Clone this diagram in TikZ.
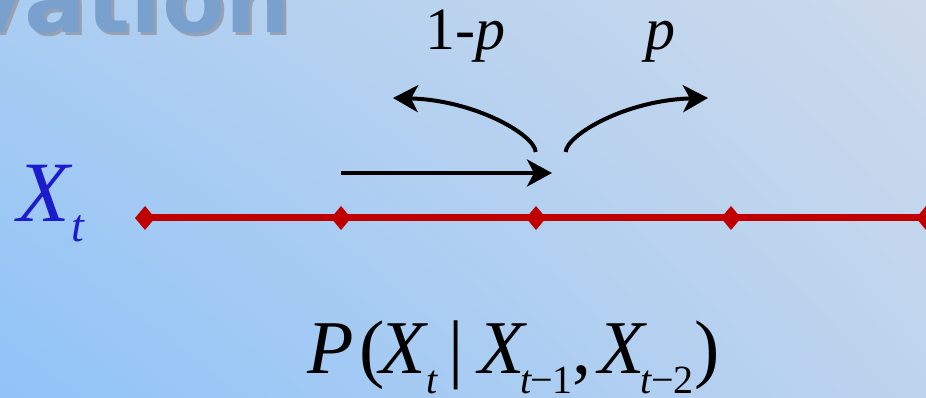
\documentclass[tikz,border=0pt]{standalone}
\usepackage{fontspec}
\setmainfont{Liberation Serif}
\newfontfamily\titlefont{DejaVu Sans}
\usetikzlibrary{arrows.meta,shadings}
\definecolor{bgUL}{RGB}{170,205,242}
\definecolor{bgUR}{RGB}{205,218,235}
\definecolor{bgLL}{RGB}{144,195,248}
\definecolor{bgLR}{RGB}{190,212,238}
\definecolor{titleblue}{RGB}{122,160,206}
\definecolor{titleshadow}{RGB}{150,162,180}
\definecolor{xblue}{RGB}{28,28,205}
\definecolor{linered}{RGB}{192,0,0}
\newcommand\mysub[1]{\raisebox{-20pt}{\fontsize{40}{40}\selectfont #1}}
\tikzset{
  lbl/.style={inner sep=0pt, anchor=base west},
  redline/.style={draw=linered, line width=7pt},
  diam/.style={fill=linered},
  move/.style={draw=black, line width=4pt, -{Stealth[length=25pt,width=27pt,inset=7pt]}},
}
\begin{document}
\begin{tikzpicture}[x=1pt,y=-1pt]
\useasboundingbox (0,0) rectangle (926,398);
\begin{scope}
\clip (0,0) rectangle (926,398);
\shade[upper left=bgUL, upper right=bgUR, lower left=bgLL, lower right=bgLR] (0,0) rectangle (926,398);
% partial title
\node[inner sep=0pt, anchor=base east, text=titleshadow] (tsh) at (294,36)
  {\titlefont\bfseries\fontsize{92}{92}\selectfont vation};
\node[inner sep=0pt, anchor=base east, text=titleblue] (title) at (291,33)
  {\titlefont\bfseries\fontsize{92}{92}\selectfont vation};
% positions on the line
\coordinate (d1) at (145,218);
\coordinate (d2) at (341,218);
\coordinate (d3) at (536,218);
\coordinate (d4) at (731,218);
\coordinate (d5) at (926,218);
\coordinate (dend) at (940,218);
\draw[redline] (d1) -- (dend);
\foreach \d in {d1,d2,d3,d4,d5}{
  \fill[diam] ([xshift=-10pt]\d) -- ([yshift=-12pt]\d) -- ([xshift=10pt]\d) -- ([yshift=12pt]\d) -- cycle;
}
% arrows
\coordinate (s0) at (341,173);
\coordinate (s1) at (552,173);
\draw[move] (s0) -- (s1);
\coordinate (l0) at (535.7,152);
\coordinate (l1) at (393,98);
\draw[move] (l0) .. controls (535,135) and (475,100) .. (l1);
\coordinate (r0) at (565.7,152);
\coordinate (r1) at (708,98);
\draw[move] (r0) .. controls (566.4,135) and (626,100) .. (r1);
% labels
\node[lbl] (lq) at (425,50) {\fontsize{60}{60}\selectfont 1-\textit{p}};
\node[lbl] (lp) at (645,50) {\fontsize{60}{60}\selectfont \textit{p}};
\node[lbl, text=xblue] (xt) at (17,222)
  {\fontsize{86}{86}\selectfont\textit{X}\hspace{-1pt}\raisebox{-20pt}{\fontsize{46}{46}\selectfont\textit{t}}};
\node[lbl] (formula) at (307,373)
  {\fontsize{76}{76}\selectfont\textit{P}\hspace{6pt}(\hspace{-5pt}\textit{X}\hspace{-2.4pt}\mysub{\textit{t}}\hspace{10pt}|\hspace{15pt}\textit{X}\hspace{-7.4pt}\mysub{\textit{t}\kern-1pt−\kern-1pt1},\hspace{7pt}\textit{X}\hspace{-6.4pt}\mysub{\textit{t}\kern-1pt−\kern-1pt2}\hspace{1pt})};
\end{scope}
\end{tikzpicture}
\end{document}
